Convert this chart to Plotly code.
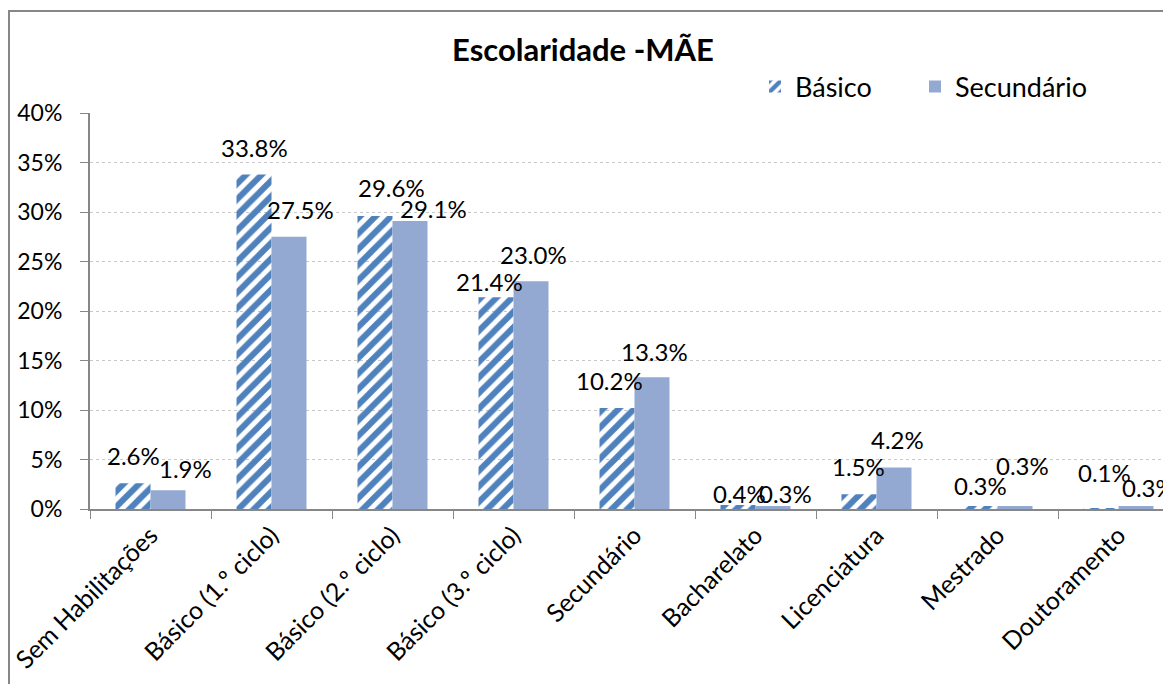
import plotly.graph_objects as go

# ----------------------------------------
# Dados
# ----------------------------------------
categorias = ['Sem Habilitações', 'Básico (1.º ciclo)', 'Básico (2.º ciclo)',
              'Básico (3.º ciclo)', 'Secundário', 'Bacharelato', 'Licenciatura',
              'Mestrado', 'Doutoramento']
basico = [2.6, 33.8, 29.6, 21.4, 10.2, 0.4, 1.5, 0.3, 0.1]
secundario = [1.9, 27.5, 29.1, 23.0, 13.3, 0.3, 4.2, 0.3, 0.3]

# deslocamento (px) dos rótulos, como ficaram no Excel
dx_bas = [0, 0, 16, -7, -8, 1, -1, 0, 3]
dy_bas = [28, 27, 28, 16, 28, 12, 28, 21, 36]
dx_sec = [17, 11, 23, 2, 2, 12, 3, 7, 12]
dy_sec = [22, 27, 12, 27, 26, 13, 28, 41, 19]

FONT = 'Lato'
AZUL = '#4F81BD'
AZUL_CLARO = '#94A9D2'
W, H = 1171, 684
# a página tem 8px de margem no body: tudo é deslocado 8px
L, T, B = 82, 105, 183
cat_px = 121        # largura de cada categoria
bar_px = 35         # largura de cada barra

fig = go.Figure()
fig.add_trace(go.Bar(
    x=categorias, y=basico, name='Básico', legend='legend', showlegend=True,
    marker=dict(color='white', line=dict(width=0),
                pattern=dict(shape='/', fgcolor=AZUL, fgopacity=1,
                             size=11, solidity=0.55, fillmode='replace')),
))
fig.add_trace(go.Bar(
    x=categorias, y=secundario, name='Secundário', legend='legend2',
    showlegend=True,
    marker=dict(color=AZUL_CLARO, line=dict(width=0)),
))

# rótulos de dados
for serie, off, dxs, dys in [(basico, -bar_px / 2, dx_bas, dy_bas),
                             (secundario, bar_px / 2, dx_sec, dy_sec)]:
    for c, v, dx, dy in zip(categorias, serie, dxs, dys):
        fig.add_annotation(x=c, y=v, text=f'{v:.1f}%', showarrow=False,
                           xanchor='center', yanchor='middle',
                           xshift=off + dx, yshift=dy,
                           font=dict(family=FONT, size=24, color='black'))

# moldura do gráfico (cortada à direita e em baixo)
plot_w = W - L
plot_h = H - T - B
fig.add_shape(type='rect', xref='paper', yref='paper',
              x0=(1 - L) / plot_w, x1=1.05,
              y0=-0.6, y1=1 + (T - 3) / plot_h,
              line=dict(color='#878787', width=2), layer='below')

leg = dict(orientation='h', xanchor='left', yanchor='middle',
           y=1 + (T - 79) / plot_h, font=dict(family=FONT, size=27),
           bgcolor='rgba(0,0,0,0)', itemwidth=30)

fig.update_layout(
    width=W, height=H, showlegend=True,
    margin=dict(l=L, r=0, t=T, b=B, autoexpand=False),
    paper_bgcolor='white', plot_bgcolor='white',
    barmode='group', bargap=1 - 2 * bar_px / cat_px, bargroupgap=0,
    font=dict(family=FONT, size=23, color='black'),
    title=dict(text='<b>Escolaridade -MÃE</b>', x=575 / W, xanchor='center',
               y=1 - 42 / H, yanchor='middle',
               font=dict(family=FONT, size=31, color='black')),
    legend=dict(leg, x=(747 - L) / plot_w),
    legend2=dict(leg, x=(907 - L) / plot_w),
    xaxis=dict(range=[-0.5, -0.5 + plot_w / cat_px], tickangle=-45,
               tickson='boundaries', ticks='outside', ticklen=8,
               tickcolor='#878787', showline=True, linecolor='#878787',
               linewidth=2, showgrid=False, automargin=False,
               tickfont=dict(family=FONT, size=25)),
    yaxis=dict(range=[0, 40], dtick=5, ticksuffix='%', ticks='outside',
               ticklen=8, tickcolor='#878787', showline=True,
               linecolor='#878787', linewidth=2, showgrid=True,
               gridcolor='#C8C8C8', griddash='dot', gridwidth=1,
               zeroline=False, automargin=False, ticklabelstandoff=13,
               tickfont=dict(family=FONT, size=23)),
)

fig.write_html('out.html')
